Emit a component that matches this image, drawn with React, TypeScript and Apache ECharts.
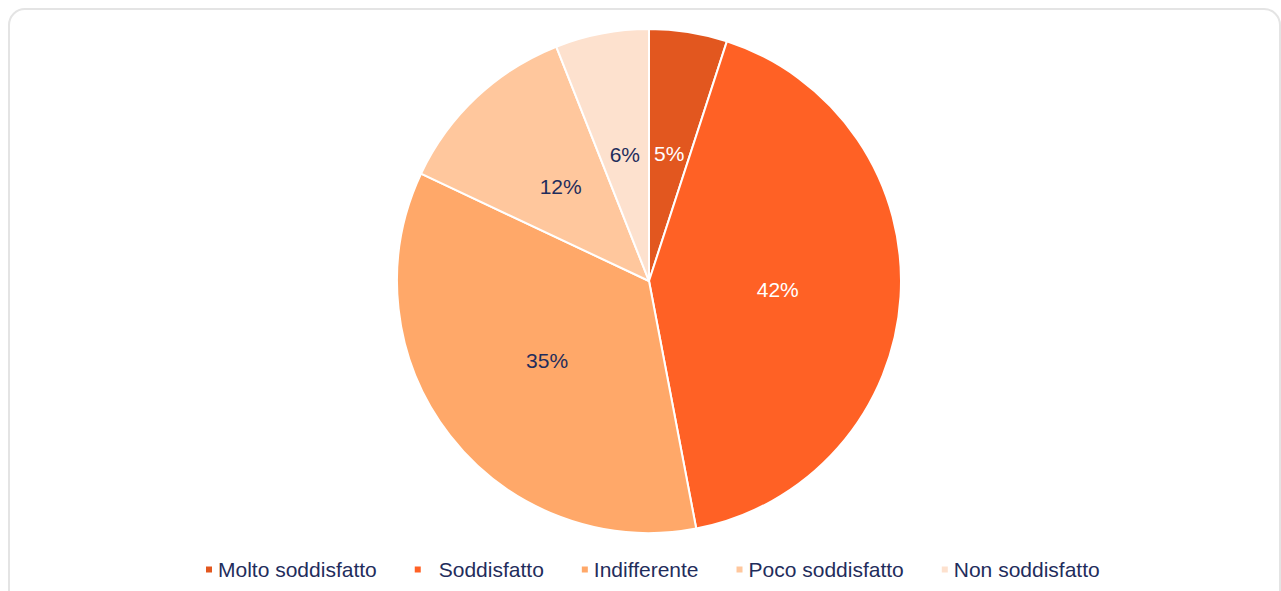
import React, { useEffect, useRef } from "react";
import * as echarts from "echarts";

const categories = ["Molto soddisfatto", "Soddisfatto", "Indifferente", "Poco soddisfatto", "Non soddisfatto"];
const values = [5, 42, 35, 12, 6];
const colors = ["#E2571F", "#FF6125", "#FFA869", "#FFC79D", "#FDE1CE"];
const labelColors = ["#FFFFFF", "#FFFFFF", "#1F2D5C", "#1F2D5C", "#1F2D5C"];

export default function App() {
  const ref = useRef<HTMLDivElement>(null);
  useEffect(() => {
    document.body.style.margin = "0";
    document.body.style.overflow = "hidden";
    if (!ref.current) return;
    const chart = echarts.init(ref.current, undefined, { renderer: "svg" });
    const font = "'Liberation Sans', Arial, sans-serif";
    chart.setOption({
      animation: false,
      backgroundColor: "#ffffff",
      textStyle: { fontFamily: font },
      graphic: [
        {
          type: "rect",
          shape: { x: 9, y: 9, width: 1271, height: 640, r: 16 },
          style: { fill: "none", stroke: "#E4E4E4", lineWidth: 2 },
          silent: true,
        },
      ],
      legend: {
        data: categories.map((name) =>
          name === "Soddisfatto" ? { name, textStyle: { padding: [0, 0, 0, 12] } } : { name }
        ),
        left: 199,
        top: 554,
        itemWidth: 8,
        itemHeight: 8,
        itemGap: 36,
        icon: "rect",
        textStyle: { color: "#1F2D5C", fontSize: 21, fontFamily: font },
      },
      series: [
        {
          type: "pie",
          center: [649, 281],
          radius: [0, 252],
          startAngle: 90,
          clockwise: true,
          avoidLabelOverlap: false,
          itemStyle: { borderColor: "#ffffff", borderWidth: 2 },
          label: {
            show: true,
            position: "inside",
            formatter: "{d}%",
            fontSize: 21,
            fontFamily: font,
          },
          labelLine: { show: false },
          emphasis: { disabled: true },
          data: categories.map((name, i) => ({
            name,
            value: values[i],
            itemStyle: { color: colors[i] },
            label: { color: labelColors[i] },
          })),
        },
      ],
    });
    return () => chart.dispose();
  }, []);
  return <div ref={ref} style={{ width: 1281, height: 591 }} />;
}
